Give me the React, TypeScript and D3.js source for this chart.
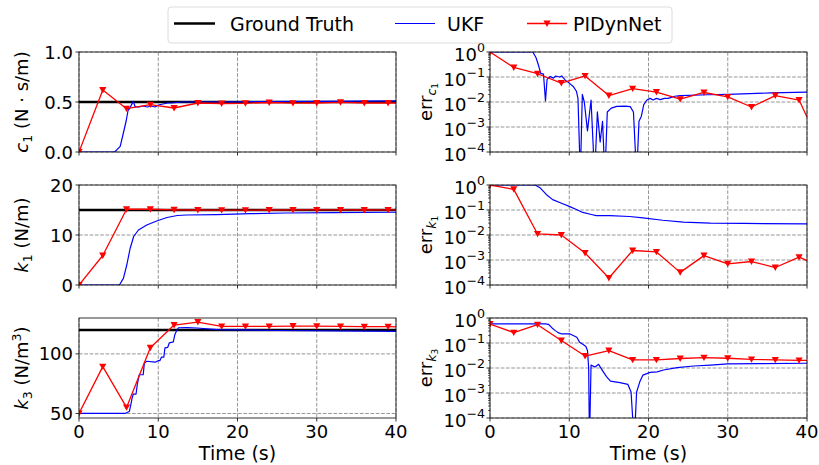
import React from 'react';
import * as d3 from 'd3';

// PIDynNet estimates are sampled every 3 s (plus the final point at 40 s)
const pidTime = [0, 3, 6, 9, 12, 15, 18, 21, 24, 27, 30, 33, 36, 39, 40];
const pidC1 = [0, 0.62, 0.433, 0.473, 0.44, 0.49, 0.485, 0.487, 0.495, 0.488, 0.49, 0.497, 0.49, 0.49, 0.49];
const pidK1 = [0, 5.9, 15.15, 15.15, 15.03, 15.0, 14.96, 14.97, 15.0, 15.02, 15.01, 15.01, 15.0, 15.02, 15.01];
const pidK3 = [50, 89.3, 55.1, 105.1, 124.2, 126.7, 123, 123, 123, 123.3, 123.2, 123, 122.8, 122.8, 122.7];
const pidErrC1 = [1.0, 0.24, 0.135, 0.057, 0.11, 0.018, 0.034, 0.025, 0.013, 0.024, 0.016, 0.0063, 0.018, 0.012, 0.0025];
const pidErrK1 = [1.0, 0.67, 0.011, 0.01, 0.0019, 1.9e-4, 0.0024, 0.0021, 3.2e-4, 0.0015, 7e-4, 8.7e-4, 5e-4, 0.0013, 9.5e-4];
const pidErrK3 = [0.57, 0.26, 0.54, 0.126, 0.03, 0.05, 0.021, 0.021, 0.024, 0.026, 0.0245, 0.022, 0.021, 0.02, 0.02];

// ground truth values
const gtC1 = 0.5;
const gtK1 = 15;
const gtK3 = 120;

// UKF traces as [time, value]
const ukfC1 = [
  [0, 0], [4.5, 0], [5.2, 0.056], [5.6, 0.19], [5.95, 0.31], [6.2, 0.42], [6.35, 0.43], [6.85, 0.506],
  [7.1, 0.45], [7.6, 0.45], [8.1, 0.46], [8.6, 0.45], [9.1, 0.46], [9.6, 0.45], [10.0, 0.47],
  [10.6, 0.48], [11.2, 0.49], [11.7, 0.49], [13, 0.5], [20, 0.502], [30, 0.506], [40, 0.512],
];
const ukfK1 = [
  [0, 0], [5.1, 0], [5.6, 1.33], [6.03, 4], [6.45, 7.3], [6.9, 9.7], [7.5, 11], [8.55, 12],
  [9.8, 12.8], [11.1, 13.5], [12.4, 13.9], [13.6, 14.0], [17.4, 14.07], [21.6, 14.27], [26, 14.4],
  [32, 14.47], [40, 14.55],
];
const ukfK3 = [
  [0, 50], [5.8, 50], [6.35, 51.7], [6.5, 55.9], [6.7, 62.9], [6.85, 66.3], [7.2, 66.3], [7.35, 74.1],
  [7.6, 82.5], [8.1, 82.5], [8.25, 92.4], [8.55, 93.8], [9.6, 93], [10.0, 94.3], [10.2, 94.3],
  [10.4, 97.2], [10.7, 97.2], [10.85, 105.1], [11.2, 105.5], [11.4, 109.3], [11.9, 110], [12.1, 116.3],
  [12.3, 119.1], [12.55, 121.9], [13.6, 122], [14.9, 121.7], [17.4, 120.3], [25, 119.6], [40, 118.8],
];
const ukfErrC1 = [
  [0, 1], [5.4, 1], [5.8, 0.6], [6.1, 0.31], [6.4, 0.14], [6.75, 0.13], [7.0, 0.011], [7.2, 0.08],
  [7.6, 0.105], [8.0, 0.09], [8.3, 0.11], [8.75, 0.1], [9.05, 0.11], [9.5, 0.075], [10.0, 0.057],
  [10.5, 0.042], [10.9, 0.027], [11.1, 0.014], [11.4, 1e-5], [11.65, 0.02], [11.9, 0.01], [12.3, 7e-4],
  [12.75, 0.012], [13.2, 1e-5], [13.55, 0.004], [13.9, 2.5e-4], [14.2, 0.0017], [14.5, 1e-5],
  [14.8, 0.004], [15.3, 0.0057], [16.0, 0.0067], [17.0, 0.0068], [17.7, 0.0065], [18.1, 0.004],
  [18.5, 1e-5], [18.8, 0.0017], [19.1, 0.0027], [19.4, 0.0078], [19.8, 0.012], [20.2, 0.014],
  [20.6, 0.012], [21.0, 0.014], [21.5, 0.0125], [22.0, 0.014], [22.5, 0.014], [23.3, 0.017],
  [24, 0.018], [27.4, 0.0195], [30, 0.02], [35.4, 0.023], [40, 0.025],
];
const ukfErrK1 = [
  [0, 1], [5.7, 1], [6.3, 0.78], [7.1, 0.42], [7.9, 0.26], [8.95, 0.19], [10, 0.14], [10.9, 0.105],
  [11.7, 0.08], [12.8, 0.066], [13.4, 0.06], [15.1, 0.06], [17.6, 0.055], [19.3, 0.048], [21.8, 0.039],
  [24.4, 0.033], [27.8, 0.03], [32, 0.029], [40, 0.028],
];
const ukfErrK3 = [
  [0, 0.583], [7.0, 0.583], [7.37, 0.56], [7.8, 0.41], [8.2, 0.32], [8.6, 0.26], [9.05, 0.23],
  [10.1, 0.23], [10.5, 0.2], [10.95, 0.17], [11.3, 0.108], [11.8, 0.085], [12.1, 0.072], [12.3, 0.05],
  [12.45, 0.01], [12.55, 1e-5], [12.75, 0.013], [13.25, 0.011], [13.7, 0.014], [14.3, 0.007],
  [14.7, 0.0045], [15.2, 0.003], [16.4, 0.0026], [17.4, 0.0022], [17.8, 0.0011], [18.2, 1e-5],
  [18.5, 0.0011], [18.9, 0.0028], [19.3, 0.0052], [20.2, 0.0067], [21.1, 0.007], [21.9, 0.0083],
  [23.6, 0.0103], [25.7, 0.012], [27.8, 0.013], [30, 0.0145], [34, 0.015], [40, 0.0155],
];

const timeTicks = [0, 10, 20, 30, 40];
const logTicks = [1, 1e-1, 1e-2, 1e-3, 1e-4];

const W = 819;
const H = 465;
const FONT = 'DejaVu Sans, sans-serif';
const FS = 18;
const colX = [[79, 396], [490, 807]];
const rowY = [[52, 152], [185, 285], [318, 418]];

const GRID = '#8a8a8a';
const markerPath = 'M-3.6,-3 L3.6,-3 L0,3.4 Z';

const Sub = ({ children, fs = 0.7, dy = 4 }) => (
  <tspan fontSize={FS * fs} dy={dy}>{children}</tspan>
);

const Panel = ({ id, col, row, yScaleType, yDomain, yTicks, yTickFmt, gt, ukf, pid, label, showX }) => {
  const [x0, x1] = colX[col];
  const [y0, y1] = rowY[row];
  const x = d3.scaleLinear().domain([0, 40]).range([x0, x1]);
  const y = yScaleType === 'log'
    ? d3.scaleLog().domain(yDomain).range([y1, y0])
    : d3.scaleLinear().domain(yDomain).range([y1, y0]);

  const line = d3.line().x((d) => x(d[0])).y((d) => y(d[1]));
  const pidPts = pidTime.map((t, i) => [t, pid[i]]);

  const minor = [];
  if (yScaleType === 'log') {
    for (let e = -4; e < 0; e++) {
      for (let m = 2; m < 10; m++) minor.push(m * Math.pow(10, e));
    }
  }

  return (
    <g>
      <defs>
        <clipPath id={`clip-${id}`}>
          <rect x={x0} y={y0} width={x1 - x0} height={y1 - y0} />
        </clipPath>
      </defs>
      {/* grid */}
      {timeTicks.map((t) => (
        <line key={'gx' + t} x1={x(t)} x2={x(t)} y1={y0} y2={y1} stroke={GRID} strokeWidth={0.9} strokeDasharray="3.7,1.6" />
      ))}
      {yTicks.map((v) => (
        <line key={'gy' + v} x1={x0} x2={x1} y1={y(v)} y2={y(v)} stroke={GRID} strokeWidth={0.9} strokeDasharray="3.7,1.6" />
      ))}
      <g clipPath={`url(#clip-${id})`}>
        {gt !== undefined && (
          <line x1={x0} x2={x1} y1={y(gt)} y2={y(gt)} stroke="#000" strokeWidth={2.6} />
        )}
        <path d={line(ukf)} fill="none" stroke="#0000ff" strokeWidth={1.2} strokeLinejoin="round" />
        <path d={line(pidPts)} fill="none" stroke="#ff0000" strokeWidth={1.3} strokeLinejoin="round" />
        {pidPts.filter((d) => d[0] % 3 === 0).map((d, i) => (
          <path key={i} d={markerPath} transform={`translate(${x(d[0])},${y(d[1])})`} fill="#ff0000" />
        ))}
      </g>
      {/* spines */}
      <rect x={x0} y={y0} width={x1 - x0} height={y1 - y0} fill="none" stroke="#000" strokeWidth={0.8} />
      {/* y ticks */}
      {yTicks.map((v) => (
        <g key={'ty' + v}>
          <line x1={x0 - 3.5} x2={x0} y1={y(v)} y2={y(v)} stroke="#000" strokeWidth={0.8} />
          {yScaleType === 'log' ? (
            <text x={x0 - 5} y={y(v) + 8.5} textAnchor="end" fontSize={FS} fontFamily={FONT}>
              10
              <tspan fontSize={FS * 0.7} dy={-8.5}>{Math.log10(v) === 0 ? '0' : '\u2212' + Math.abs(Math.log10(v))}</tspan>
            </text>
          ) : (
            <text x={x0 - 6} y={y(v) + 6.5} textAnchor="end" fontSize={FS} fontFamily={FONT}>
              {yTickFmt(v)}
            </text>
          )}
        </g>
      ))}
      {minor.map((v) => (
        <line key={'m' + v} x1={x0 - 2} x2={x0} y1={y(v)} y2={y(v)} stroke="#000" strokeWidth={0.6} />
      ))}
      {/* x ticks */}
      {timeTicks.map((t) => (
        <g key={'tx' + t}>
          <line x1={x(t)} x2={x(t)} y1={y1} y2={y1 + 3.5} stroke="#000" strokeWidth={0.8} />
          {showX && (
            <text x={x(t)} y={y1 + 20} textAnchor="middle" fontSize={FS} fontFamily={FONT}>{t}</text>
          )}
        </g>
      ))}
      {showX && (
        <text x={(x0 + x1) / 2} y={y1 + 42} textAnchor="middle" fontSize={19} fontFamily={FONT}>Time (s)</text>
      )}
      <text
        transform={`translate(${col === 0 ? 28 : 432},${(y0 + y1) / 2}) rotate(-90)`}
        textAnchor="middle"
        fontSize={FS}
        fontFamily={FONT}
      >
        {label}
      </text>
    </g>
  );
};

const Legend = () => (
  <g fontFamily={FONT} fontSize={19}>
    <rect x={168} y={7} width={504} height={36} rx={3} fill="#fff" fillOpacity={0.8} stroke="#d3d3d3" strokeWidth={0.8} />
    <line x1={174} x2={215} y1={23.5} y2={23.5} stroke="#000" strokeWidth={2.6} />
    <text x={230} y={30.5}>Ground Truth</text>
    <line x1={395} x2={435} y1={23.5} y2={23.5} stroke="#0000ff" strokeWidth={1.2} />
    <text x={447} y={30.5}>UKF</text>
    <line x1={527} x2={567} y1={23.5} y2={23.5} stroke="#ff0000" strokeWidth={1.3} />
    <path d={markerPath} transform="translate(547,23.5)" fill="#ff0000" />
    <text x={573} y={30.5}>PIDynNet</text>
  </g>
);

const fmt1 = d3.format('.1f');
const fmt0 = d3.format('d');

export default function App() {
  return (
    <svg width={W} height={H} style={{ position: 'absolute', left: 0, top: 0, background: '#fff' }}>
      <Panel
        id="c1" col={0} row={0} yScaleType="linear" yDomain={[0, 1]} yTicks={[0, 0.5, 1]} yTickFmt={fmt1}
        gt={gtC1} ukf={ukfC1} pid={pidC1}
        label={<><tspan fontStyle="italic">c</tspan><Sub dy={4}>1</Sub><tspan dy={-4}> (N · s/m)</tspan></>}
      />
      <Panel
        id="ec1" col={1} row={0} yScaleType="log" yDomain={[1e-4, 1]} yTicks={logTicks}
        ukf={ukfErrC1} pid={pidErrC1}
        label={<>err<tspan fontSize={FS * 0.7} dy={4} fontStyle="italic">c</tspan><tspan fontSize={FS * 0.5} dy={2}>1</tspan></>}
      />
      <Panel
        id="k1" col={0} row={1} yScaleType="linear" yDomain={[0, 20]} yTicks={[0, 10, 20]} yTickFmt={fmt0}
        gt={gtK1} ukf={ukfK1} pid={pidK1}
        label={<><tspan fontStyle="italic">k</tspan><Sub dy={4}>1</Sub><tspan dy={-4}> (N/m)</tspan></>}
      />
      <Panel
        id="ek1" col={1} row={1} yScaleType="log" yDomain={[1e-4, 1]} yTicks={logTicks}
        ukf={ukfErrK1} pid={pidErrK1}
        label={<>err<tspan fontSize={FS * 0.7} dy={4} fontStyle="italic">k</tspan><tspan fontSize={FS * 0.5} dy={2}>1</tspan></>}
      />
      <Panel
        id="k3" col={0} row={2} yScaleType="linear" yDomain={[46.2, 130.1]} yTicks={[50, 100]} yTickFmt={fmt0}
        gt={gtK3} ukf={ukfK3} pid={pidK3} showX
        label={<><tspan fontStyle="italic">k</tspan><Sub dy={4}>3</Sub><tspan dy={-4}> (N/m</tspan><tspan fontSize={FS * 0.7} dy={-7}>3</tspan><tspan dy={7}>)</tspan></>}
      />
      <Panel
        id="ek3" col={1} row={2} yScaleType="log" yDomain={[1e-4, 1]} yTicks={logTicks}
        ukf={ukfErrK3} pid={pidErrK3} showX
        label={<>err<tspan fontSize={FS * 0.7} dy={4} fontStyle="italic">k</tspan><tspan fontSize={FS * 0.5} dy={2}>3</tspan></>}
      />
      <Legend />
    </svg>
  );
}
